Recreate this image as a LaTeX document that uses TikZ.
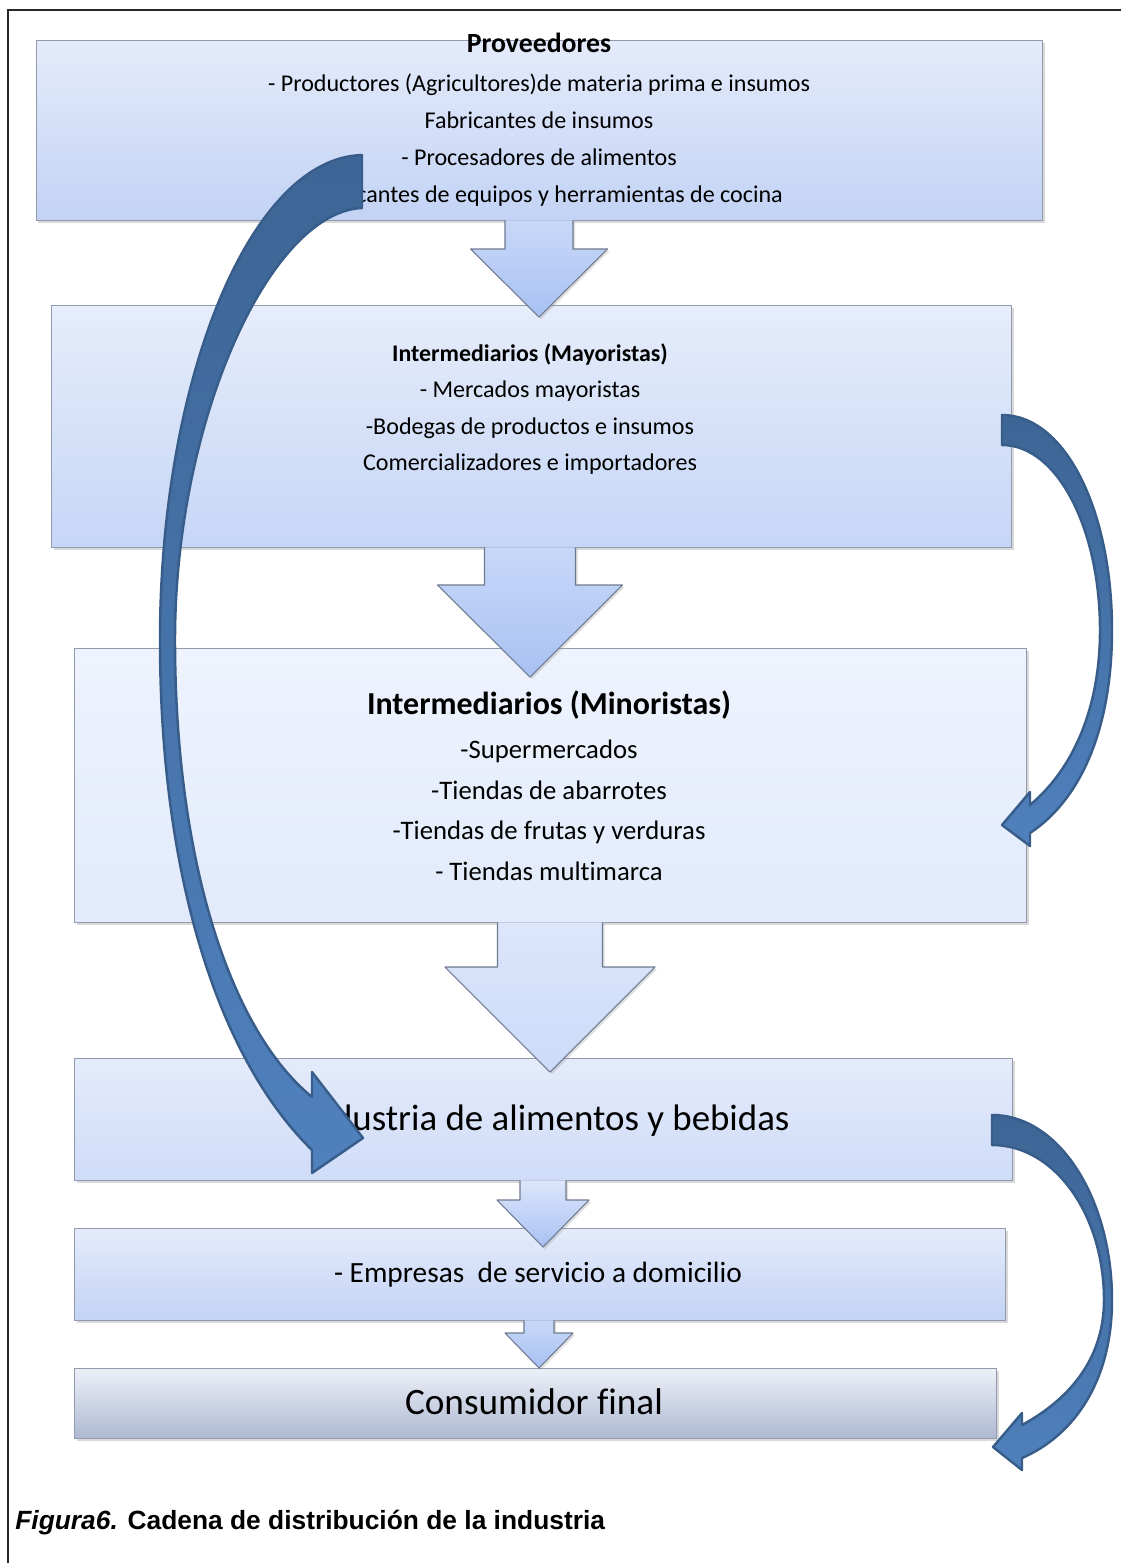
\documentclass[tikz,border=0pt]{standalone}
\usepackage{fontspec}
\setmainfont{Carlito}[Ligatures=NoCommon]
\newfontfamily\arialfont{Liberation Sans}
\usepackage{tikz}
\usetikzlibrary{calc,shadows}
\definecolor{azulosc}{HTML}{3D6595}
\definecolor{azulcl}{HTML}{4F81BD}
\definecolor{bordeazul}{HTML}{385D8A}
\definecolor{bordecaja}{HTML}{929BAE}
\definecolor{bordeflecha}{HTML}{6E7A8F}
\definecolor{provA}{HTML}{E4EBFB}
\definecolor{provB}{HTML}{C3D3F5}
\definecolor{mayoA}{HTML}{E6EDFB}
\definecolor{mayoB}{HTML}{C6D6F6}
\definecolor{minoA}{HTML}{EEF3FD}
\definecolor{minoB}{HTML}{E2EAFB}
\definecolor{induA}{HTML}{E5ECFB}
\definecolor{induB}{HTML}{CFDCF8}
\definecolor{consA}{HTML}{EDF0F6}
\definecolor{consB}{HTML}{AEB9D3}
\definecolor{flechaA}{HTML}{C8D8F8}
\definecolor{flechaB}{HTML}{A8C1F3}
\definecolor{flechaC}{HTML}{DCE6FB}
\definecolor{flechaD}{HTML}{CCDBF9}

\newcommand{\bajada}[8]{%
  \shade[top color=#7, bottom color=#8, drop shadow={shadow xshift=0.04cm, shadow yshift=-0.04cm, opacity=0.25}]
    (#2-#3,0 |- #1.south) -- (#2-#3,#5) -- (#2-#4,#5) -- (#2,#6) -- (#2+#4,#5) -- (#2+#3,#5) -- (#2+#3,0 |- #1.south) -- cycle;
  \draw[bordeflecha, line width=0.6pt, line join=round]
    (#2-#3,0 |- #1.south) -- (#2-#3,#5) -- (#2-#4,#5) -- (#2,#6) -- (#2+#4,#5) -- (#2+#3,#5) -- (#2+#3,0 |- #1.south);}

\begin{document}
\begin{tikzpicture}[x=0.02cm, y=-0.02cm,
  caja/.style 2 args={draw=bordecaja, line width=0.5pt, minimum width=#1*0.02cm, minimum height=#2*0.02cm, inner sep=0pt,
    drop shadow={shadow xshift=0.05cm, shadow yshift=-0.05cm, opacity=0.3}},
  texto/.style={align=center, inner sep=0pt},
  curva/.style={draw=bordeazul, line width=1.4pt, line join=round, top color=azulosc, bottom color=azulcl}]
\useasboundingbox (0,0) rectangle (1121,1563);
\draw[line width=0.9pt, black!85] (8,1563) -- (8,10) -- (1121,10);

\node[caja={1006}{180}, top color=provA, bottom color=provB] (prov) at (539,130) {};
\node[caja={960}{242}, top color=mayoA, bottom color=mayoB] (mayo) at (531,426) {};
\node[caja={952}{274}, top color=minoA, bottom color=minoB] (mino) at (550,785) {};
\node[caja={938}{122}, top color=provA, bottom color=induB] (indu) at (543,1119) {};
\node[caja={931}{92}, top color=provA, bottom color=provB] (domi) at (539.5,1274) {};
\node[caja={922}{70}, top color=consA, bottom color=consB] (cons) at (535,1403) {};

\node[texto, font=\fontsize{13.7}{21}\selectfont] (tprov) at (539,119.5) {{\fontsize{15.8}{21}\selectfont\textbf{Proveedores}}\\[1.5pt]
  - Productores (Agricultores)de materia prima e insumos\\ Fabricantes de insumos\\
  - Procesadores de alimentos\\ - Fabricantes de equipos y herramientas de cocina};
\node[texto, font=\fontsize{13.7}{20.8}\selectfont] (tmayo) at (530,409) {{\fontsize{13.6}{20.8}\selectfont\textbf{Intermediarios (Mayoristas)}}\\
  - Mercados mayoristas\\ -Bodegas de productos e insumos\\ Comercializadores e importadores};
\node[texto, font=\fontsize{15.2}{23.2}\selectfont] (tmino) at (549,785.5) {{\fontsize{18.2}{23.2}\selectfont\textbf{Intermediarios (Minoristas)}}\\[2pt]
  -Supermercados\\ -Tiendas de abarrotes\\ -Tiendas de frutas y verduras\\ - Tiendas multimarca};
\node[texto, font=\fontsize{21}{24}\selectfont] (tindu) at (547,1121) {Industria de alimentos y bebidas};
\node[texto, font=\fontsize{16.7}{20}\selectfont] (tdomi) at (538,1275) {- Empresas~ de servicio a domicilio};
\node[texto, font=\fontsize{21.2}{25}\selectfont] (tcons) at (534,1402) {Consumidor final};

\bajada{prov}{539}{34}{68.5}{249}{317}{flechaA}{flechaB}
\bajada{mayo}{530}{45.5}{92.5}{585}{677}{flechaA}{flechaB}
\bajada{mino}{550}{52.5}{105}{967}{1072}{flechaC}{flechaD}
\bajada{indu}{543}{23}{46}{1200}{1247}{flechaC}{flechaB}
\bajada{domi}{539}{15}{34}{1333}{1368}{flechaA}{flechaB}

\draw[curva] (1002,415) .. controls (1065,415) and (1112,510) .. (1112,630)
  .. controls (1112,730) and (1080,800) .. (1030,833) -- (1030,846) -- (1002,825) -- (1030,792) -- (1030,805)
  .. controls (1072,770) and (1100,710) .. (1100,630) .. controls (1100,530) and (1058,445) .. (1002,445) -- cycle;
\draw[curva] (992,1115) .. controls (1060,1115) and (1112,1200) .. (1112,1300)
  .. controls (1112,1380) and (1075,1435) .. (1022,1458) -- (1022,1470) -- (993,1447) -- (1022,1413) -- (1022,1425)
  .. controls (1068,1400) and (1104,1360) .. (1104,1300) .. controls (1104,1215) and (1055,1145) .. (992,1145) -- cycle;
\draw[curva] (362,155) .. controls (250,158) and (160,380) .. (160,640)
  .. controls (160,880) and (220,1060) .. (312,1150) -- (312,1173) -- (363,1138) -- (312,1072) -- (312,1097)
  .. controls (230,1030) and (175,860) .. (175,640) .. controls (175,420) and (270,212) .. (362,208) -- cycle;

\node[anchor=west, inner sep=0pt, font=\arialfont\fontsize{15}{18}\selectfont\bfseries] (pie) at (15,1523)
  {\textit{Figura6.} Cadena de distribución de la industria};
\end{tikzpicture}
\end{document}
